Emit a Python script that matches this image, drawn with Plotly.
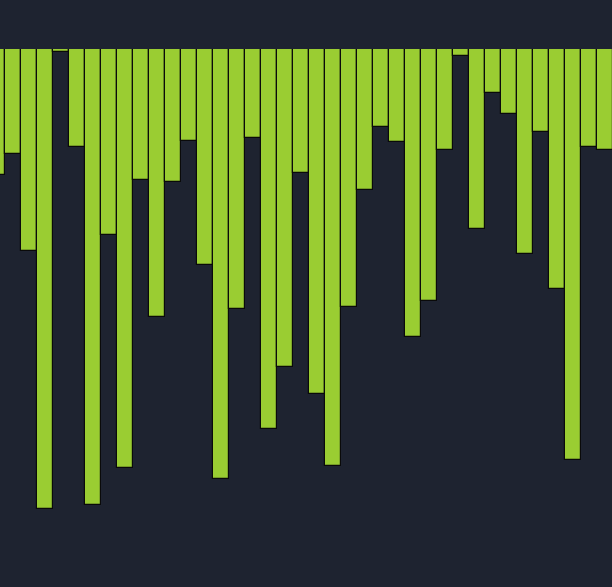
import plotly.graph_objects as go

# bar positions (index) and how far each bar hangs down from the top
positions = list(range(39))
depths = [126, 105, 202, 460, 3, 98, 456, 186, 419, 131,
          268, 133, 92, 216, 430, 260, 89, 380, 318, 124,
          345, 417, 258, 141, 78, 93, 288, 252, 101, 7,
          180, 44, 65, 205, 83, 240, 411, 98, 101]

fig = go.Figure()
fig.add_trace(go.Bar(x=positions, y=depths,
                     marker=dict(color="#9acd32", line=dict(color="#0a0a0a", width=1.2)),
                     width=1))

fig.update_layout(
    width=612, height=587,
    margin=dict(l=0, r=0, t=49, b=0),
    paper_bgcolor="#1e2330", plot_bgcolor="#1e2330",
    bargap=0, showlegend=False,
    xaxis=dict(range=[0.2, 38.45], visible=False),
    yaxis=dict(range=[538, 0], visible=False),
)

# drop the page's default body margin so the figure fills the window
fig.write_html("out.html", config={"displayModeBar": False},
               post_script="document.body.style.margin='0';document.body.style.background='#1e2330';")
